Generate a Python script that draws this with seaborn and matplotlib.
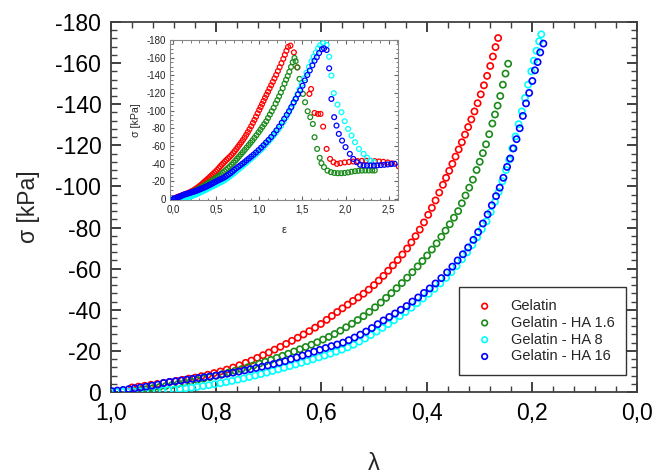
import numpy as np
import pandas as pd
import matplotlib
matplotlib.use("Agg")
import matplotlib.pyplot as plt
import seaborn as sns
from matplotlib.ticker import MultipleLocator

# ---------------- data ----------------
series_names = ["Gelatin", "Gelatin - HA 1.6", "Gelatin - HA 8", "Gelatin - HA 16"]
series_colors = ["#ff0000", "#1a8a1a", "#00ffff", "#0000ff"]

# main plot: stretch ratio lambda vs stress sigma (kPa)
lam_gel = [0.960, 0.948, 0.936, 0.924, 0.912, 0.900, 0.888, 0.876, 0.864, 0.852,
           0.840, 0.828, 0.816, 0.804, 0.792, 0.780, 0.768, 0.756, 0.744, 0.733,
           0.722, 0.711, 0.700, 0.689, 0.678, 0.667, 0.656, 0.645, 0.634, 0.623,
           0.612, 0.601, 0.590, 0.580, 0.570, 0.560, 0.550, 0.540, 0.530, 0.520,
           0.510, 0.500, 0.491, 0.482, 0.473, 0.464, 0.455, 0.446, 0.437, 0.429,
           0.421, 0.413, 0.405, 0.397, 0.390, 0.383, 0.376, 0.369, 0.363, 0.357,
           0.351, 0.345, 0.339, 0.333, 0.327, 0.321, 0.315, 0.309, 0.303, 0.297,
           0.291, 0.285, 0.279, 0.274, 0.269, 0.264]
sig_gel = [-2.2, -2.6, -3.0, -3.5, -3.9, -4.4, -4.9, -5.4, -5.9, -6.5,
           -7.0, -7.7, -8.4, -9.2, -10.0, -10.9, -11.9, -13.0, -14.2, -15.3,
           -16.6, -17.9, -19.2, -20.6, -22.0, -23.4, -24.9, -26.4, -28.0, -29.6,
           -31.3, -33.1, -35.1, -37.0, -38.9, -40.7, -42.5, -44.3, -46.0, -47.8,
           -49.8, -52.0, -54.2, -56.5, -59.0, -61.6, -64.2, -66.9, -69.8, -72.8,
           -75.8, -79.0, -82.5, -86.2, -89.6, -93.2, -97.0, -100.8, -104.2, -107.6,
           -111.0, -114.5, -118.0, -121.5, -125.2, -128.9, -132.6, -136.5, -140.5, -144.8,
           -149.2, -153.8, -158.6, -163.2, -167.8, -172.2]

lam_ha16 = [0.956, 0.944, 0.932, 0.920, 0.908, 0.896, 0.884, 0.872, 0.860, 0.848,
            0.836, 0.824, 0.812, 0.800, 0.788, 0.776, 0.764, 0.752, 0.740, 0.729,
            0.718, 0.707, 0.696, 0.685, 0.674, 0.663, 0.652, 0.641, 0.630, 0.619,
            0.608, 0.597, 0.586, 0.575, 0.564, 0.553, 0.542, 0.531, 0.520, 0.509,
            0.498, 0.487, 0.477, 0.467, 0.457, 0.447, 0.437, 0.427, 0.417, 0.408,
            0.399, 0.390, 0.381, 0.372, 0.364, 0.356, 0.348, 0.340, 0.333, 0.326,
            0.319, 0.312, 0.305, 0.299, 0.293, 0.287, 0.281, 0.275, 0.270, 0.265,
            0.260, 0.255, 0.250, 0.245]
sig_ha16 = [-0.4, -0.9, -1.4, -1.9, -2.4, -2.9, -3.4, -4.0, -4.6, -5.2,
            -5.8, -6.5, -7.2, -7.9, -8.7, -9.5, -10.3, -11.1, -12.0, -12.9,
            -13.8, -14.7, -15.6, -16.6, -17.6, -18.6, -19.7, -20.8, -21.9, -23.0,
            -24.2, -25.5, -26.8, -28.2, -29.8, -31.5, -33.2, -35.0, -36.9, -39.0,
            -41.2, -43.5, -45.8, -48.1, -50.5, -53.0, -55.6, -58.3, -61.1, -63.7,
            -66.4, -69.3, -72.3, -75.5, -78.5, -81.6, -84.8, -88.0, -91.8, -95.6,
            -99.4, -103.3, -108.0, -112.0, -116.2, -120.5, -125.4, -130.6, -135.0, -139.3,
            -144.0, -149.5, -154.9, -159.7]

lam_ha8 = [1.000, 0.990, 0.979, 0.968, 0.957, 0.946, 0.935, 0.924, 0.913, 0.902,
           0.891, 0.880, 0.869, 0.858, 0.847, 0.836, 0.825, 0.814, 0.803, 0.792,
           0.781, 0.770, 0.759, 0.748, 0.737, 0.726, 0.715, 0.704, 0.693, 0.682,
           0.671, 0.660, 0.649, 0.638, 0.627, 0.616, 0.605, 0.594, 0.583, 0.572,
           0.561, 0.550, 0.539, 0.528, 0.517, 0.506, 0.495, 0.484, 0.473, 0.462,
           0.451, 0.440, 0.429, 0.418, 0.407, 0.396, 0.385, 0.374, 0.363, 0.353,
           0.343, 0.333, 0.323, 0.313, 0.304, 0.295, 0.286, 0.278, 0.270, 0.263,
           0.256, 0.249, 0.243, 0.237, 0.231, 0.225, 0.219, 0.213, 0.207, 0.201,
           0.196, 0.191, 0.186, 0.182]
sig_ha8 = [-0.0, -0.0, -0.1, -0.1, -0.2, -0.3, -0.4, -0.5, -0.6, -0.8,
           -1.0, -1.2, -1.5, -1.8, -2.1, -2.5, -2.9, -3.3, -3.8, -4.3,
           -4.8, -5.4, -6.0, -6.6, -7.3, -8.0, -8.7, -9.4, -10.2, -11.0,
           -11.8, -12.6, -13.4, -14.2, -15.0, -15.9, -16.8, -17.7, -18.6, -19.6,
           -20.6, -21.7, -23.0, -24.5, -26.0, -27.7, -29.4, -31.2, -33.0, -34.9,
           -36.9, -38.9, -41.0, -43.2, -45.5, -47.8, -50.2, -52.8, -55.5, -58.3,
           -61.3, -64.5, -67.9, -71.5, -75.2, -79.2, -83.0, -87.5, -92.5, -97.3,
           -102.5, -108.0, -113.0, -118.5, -124.3, -130.3, -136.5, -143.0, -149.5, -156.0,
           -161.2, -166.0, -170.6, -174.0]

lam_ha16b = [0.998, 0.988, 0.977, 0.966, 0.955, 0.944, 0.933, 0.922, 0.911, 0.900,
             0.889, 0.878, 0.867, 0.856, 0.845, 0.834, 0.823, 0.812, 0.801, 0.790,
             0.779, 0.768, 0.757, 0.746, 0.735, 0.724, 0.713, 0.702, 0.691, 0.680,
             0.669, 0.658, 0.647, 0.636, 0.625, 0.614, 0.603, 0.592, 0.581, 0.570,
             0.559, 0.548, 0.537, 0.526, 0.515, 0.504, 0.493, 0.482, 0.471, 0.460,
             0.449, 0.438, 0.427, 0.416, 0.405, 0.394, 0.383, 0.372, 0.361, 0.351,
             0.341, 0.331, 0.321, 0.311, 0.302, 0.293, 0.284, 0.276, 0.268, 0.261,
             0.254, 0.247, 0.241, 0.235, 0.229, 0.223, 0.217, 0.211, 0.205, 0.199,
             0.194, 0.189, 0.184, 0.178]
sig_ha16b = [-0.4, -0.7, -1.0, -1.4, -1.8, -2.2, -2.6, -3.1, -3.6, -4.4,
             -4.9, -5.2, -5.6, -6.0, -6.4, -6.8, -7.2, -7.6, -8.0, -8.4,
             -8.9, -9.4, -9.9, -10.5, -11.1, -11.7, -12.3, -12.9, -13.6, -14.3,
             -15.0, -16.0, -16.8, -17.7, -18.6, -19.6, -20.5, -21.4, -22.3, -23.1,
             -24.0, -25.2, -26.5, -27.9, -29.4, -31.1, -33.0, -34.8, -36.5, -38.2,
             -40.0, -41.8, -44.0, -46.0, -48.2, -50.4, -52.8, -55.4, -58.2, -61.0,
             -64.0, -67.0, -70.3, -74.0, -77.8, -82.0, -86.4, -90.8, -95.3, -99.4,
             -104.2, -109.5, -113.6, -118.5, -123.0, -128.3, -134.3, -140.4, -145.5, -151.3,
             -156.5, -160.5, -165.2, -169.5]

# inset: post-peak part, strain epsilon vs stress sigma (kPa)
eps_gel_tail = [1.36, 1.40, 1.44, 1.58, 1.60, 1.64, 1.68, 1.71, 1.74, 1.78,
                1.82, 1.86, 1.90, 1.94, 1.99, 2.04, 2.09, 2.14, 2.19, 2.24,
                2.29, 2.34, 2.39, 2.44, 2.49, 2.54, 2.62]
sig_gel_tail = [-173.6, -166.0, -149.0, -119.0, -124.6, -97.5, -96.4, -96.4, -82.0, -56.8,
                -45.5, -41.8, -39.9, -40.7, -41.5, -42.0, -42.5, -43.0, -43.3, -43.5,
                -43.3, -43.0, -42.6, -42.2, -41.5, -40.5, -37.0]
eps_ha16_tail = [1.42, 1.44, 1.465, 1.505, 1.53, 1.56, 1.59, 1.62, 1.64, 1.67,
                 1.70, 1.72, 1.75, 1.79, 1.83, 1.87, 1.91, 1.95, 1.99, 2.03,
                 2.07, 2.11, 2.15, 2.19, 2.23, 2.27, 2.31, 2.34]
sig_ha16_tail = [-156.0, -149.0, -136.0, -119.0, -109.6, -99.4, -92.7, -85.0, -70.0, -56.8,
                 -46.7, -40.7, -36.2, -32.3, -30.5, -29.6, -29.3, -29.3, -29.6, -30.2,
                 -31.0, -31.6, -32.0, -32.3, -32.4, -32.4, -32.4, -32.4]
eps_ha8_tail = [1.74, 1.78, 1.81, 1.836, 1.864, 1.907, 1.953, 1.99, 2.03, 2.07,
                2.11, 2.156, 2.21, 2.25, 2.29, 2.33]
sig_ha8_tail = [-176.3, -174.4, -161.0, -139.7, -119.8, -106.9, -98.3, -88.1, -79.4, -71.9,
                -64.4, -56.8, -51.2, -46.7, -43.5, -42.0]
eps_ha16b_tail = [1.75, 1.78, 1.81, 1.836, 1.868, 1.895, 1.922, 1.96, 2.00, 2.05,
                  2.09, 2.13, 2.17, 2.21, 2.25, 2.29, 2.33, 2.37, 2.41, 2.45,
                  2.49, 2.53, 2.57]
sig_ha16b_tail = [-170.6, -168.7, -148.0, -113.3, -92.7, -83.2, -73.8, -66.2, -58.8, -51.2,
                  -45.5, -41.8, -38.8, -38.2, -38.0, -38.0, -38.0, -38.2, -38.5, -38.8,
                  -39.2, -39.6, -40.0]

# ticks
x_ticks = [1.0, 0.8, 0.6, 0.4, 0.2, 0.0]
x_tick_labels = ["1,0", "0,8", "0,6", "0,4", "0,2", "0,0"]
y_ticks = [0, -20, -40, -60, -80, -100, -120, -140, -160, -180]
y_tick_labels = ["0", "-20", "-40", "-60", "-80", "-100", "-120", "-140", "-160", "-180"]
inset_x_ticks = [0.0, 0.5, 1.0, 1.5, 2.0, 2.5]
inset_x_tick_labels = ["0,0", "0,5", "1,0", "1,5", "2,0", "2,5"]

main_lams = [lam_gel, lam_ha16, lam_ha8, lam_ha16b]
main_sigs = [sig_gel, sig_ha16, sig_ha8, sig_ha16b]
tail_eps = [eps_gel_tail, eps_ha16_tail, eps_ha8_tail, eps_ha16b_tail]
tail_sigs = [sig_gel_tail, sig_ha16_tail, sig_ha8_tail, sig_ha16b_tail]

# ---------------- style ----------------
sns.set_theme(style="ticks")
plt.rcParams['font.family'] = ['Liberation Sans', 'DejaVu Sans']
frame_col = "#404040"

fig = plt.figure(figsize=(6.56, 4.74), dpi=100)
fig.patch.set_facecolor("white")

W, H = 656.0, 474.0
ax = fig.add_axes([111 / W, 1 - 392 / H, 526 / W, 370 / H])
ax.set_facecolor("white")

for name, col, lam, sig in zip(series_names, series_colors, main_lams, main_sigs):
    df = pd.DataFrame({"lam": lam, "sig": sig})
    sns.scatterplot(data=df, x="lam", y="sig", ax=ax, color=col, marker="o",
                    s=20, linewidth=1.2, legend=False, label=name, zorder=3)
    coll = ax.collections[-1]
    coll.set_facecolor("none")
    coll.set_edgecolor(col)
    coll.set_linewidth(1.2)

ax.set_xlim(1.0, 0.0)
ax.set_ylim(0, -180)
ax.set_xticks(x_ticks)
ax.set_xticklabels(x_tick_labels)
ax.set_yticks(y_ticks)
ax.set_yticklabels(y_tick_labels)
ax.xaxis.set_minor_locator(MultipleLocator(0.04))
ax.yaxis.set_minor_locator(MultipleLocator(4))
ax.tick_params(which="both", direction="in", top=True, right=True,
               color=frame_col, labelcolor="black")
ax.tick_params(which="major", length=7, width=1.4, labelsize=16.5, pad=7)
ax.tick_params(which="minor", length=4, width=1.0)
ax.tick_params(axis="x", which="major", pad=7.5)
for sp in ax.spines.values():
    sp.set_color(frame_col)
    sp.set_linewidth(1.3)

ax.set_xlabel("λ", fontsize=17)
ax.set_ylabel("σ [kPa]", fontsize=16.5)
ax.xaxis.set_label_coords(0.5, -0.165)
ax.yaxis.set_label_coords(-0.135, 0.5)

leg = ax.legend(loc="lower right", bbox_to_anchor=(0.979, 0.046), borderaxespad=0,
                frameon=True, fancybox=False, framealpha=1, edgecolor="#333333",
                fontsize=10.5, handlelength=1.95, handletextpad=0.8,
                borderpad=0.8, labelspacing=0.19, markerscale=0.9)
leg.get_frame().set_linewidth(1.0)

# ---------------- inset ----------------
axi = fig.add_axes([170 / W, 1 - 200 / H, 228 / W, 160 / H])
axi.set_facecolor("white")
for name, col, lam, sig, et, st in zip(series_names, series_colors, main_lams, main_sigs,
                                       tail_eps, tail_sigs):
    eps_all = list(-np.log(np.array(lam))) + list(et)
    sig_all = list(sig) + list(st)
    df = pd.DataFrame({"eps": eps_all, "sig": sig_all})
    sns.scatterplot(data=df, x="eps", y="sig", ax=axi, color=col, marker="o",
                    s=12, linewidth=0.9, legend=False, zorder=3)
    coll = axi.collections[-1]
    coll.set_facecolor("none")
    coll.set_edgecolor(col)
    coll.set_linewidth(0.9)

axi.set_xlim(-0.04, 2.61)
axi.set_ylim(1, -180)
axi.set_xticks(inset_x_ticks)
axi.set_xticklabels(inset_x_tick_labels)
axi.set_yticks(y_ticks)
axi.set_yticklabels(y_tick_labels)
axi.xaxis.set_minor_locator(MultipleLocator(0.1))
axi.yaxis.set_minor_locator(MultipleLocator(5))
axi.tick_params(which="both", direction="in", top=True, right=True,
                color="#666666", labelcolor="#222222")
axi.tick_params(which="major", length=3, width=0.8, labelsize=7, pad=3)
axi.tick_params(which="minor", length=1.8, width=0.6)
for sp in axi.spines.values():
    sp.set_color("#888888")
    sp.set_linewidth(0.8)
axi.set_xlabel("ε", fontsize=8, labelpad=8)
axi.set_ylabel("σ [kPa]", fontsize=7.6, labelpad=4)

fig.savefig("out.png", dpi=100)
